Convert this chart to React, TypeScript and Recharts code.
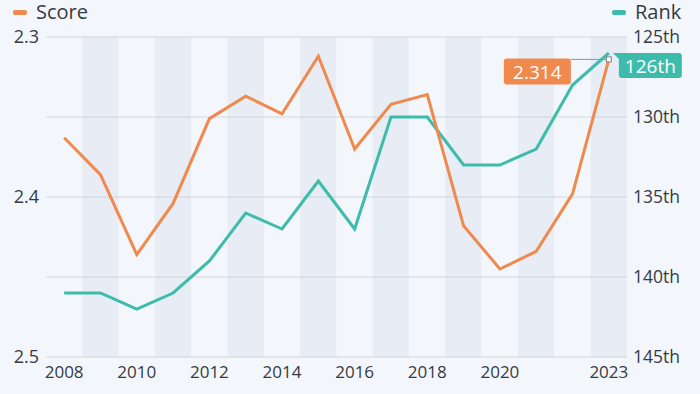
import React from "react";
import {
  ComposedChart,
  Line,
  Bar,
  XAxis,
  YAxis,
  CartesianGrid,
} from "recharts";

const years = [
  "2008", "2009", "2010", "2011", "2012", "2013", "2014", "2015",
  "2016", "2017", "2018", "2019", "2020", "2021", "2022", "2023",
];
const scoreValues = [
  2.363, 2.386, 2.436, 2.404, 2.351, 2.337, 2.348, 2.312,
  2.37, 2.342, 2.336, 2.418, 2.445, 2.434, 2.398, 2.314,
];
const rankValues = [141, 141, 142, 141, 139, 136, 137, 134, 137, 130, 130, 133, 133, 132, 128, 126];
// shaded column behind every other year
const bandFlags = [0, 1, 0, 1, 0, 1, 0, 1, 0, 1, 0, 1, 0, 1, 0, 1];
const shownYears = ["2008", "2010", "2012", "2014", "2016", "2018", "2020", "2023"];
const scoreTicks = [2.3, 2.4, 2.5];
const rankTicks = [125, 130, 135, 140, 145];

const ORANGE = "#f0894e";
const TEAL = "#3dbcab";
const TEXT = "#333b44";
const FONT = "'Open Sans', sans-serif";

const chartData = years.map((year, i) => ({
  year,
  score: scoreValues[i],
  rank: rankValues[i],
  band: bandFlags[i],
}));

if (typeof document !== "undefined") document.body.style.margin = "0";

function ScoreEndLabel(props: any) {
  const { x, y, index, value } = props;
  if (index !== years.length - 1) return null;
  return (
    <g>
      <line x1={x - 38} y1={y} x2={x} y2={y} stroke="#8d939a" strokeWidth={1} />
      <rect x={x - 105} y={y - 1} width={67} height={26} rx={3} fill={ORANGE} />
      <text
        x={x - 71.5}
        y={y + 12.5}
        textAnchor="middle"
        dominantBaseline="central"
        fill="#fff"
        fontSize={19}
        fontFamily={FONT}
      >
        {Number(value).toFixed(3)}
      </text>
      <rect x={x - 2.5} y={y - 2.5} width={5} height={5} fill="#fff" stroke="#7d838a" strokeWidth={1} />
    </g>
  );
}

function RankEndLabel(props: any) {
  const { x, y, index, value } = props;
  if (index !== years.length - 1) return null;
  return (
    <g>
      <path d={`M${x + 4},${y} L${x + 12},${y} L${x + 12},${y + 8} Z`} fill={TEAL} />
      <rect x={x + 10} y={y} width={63} height={25} rx={3} fill={TEAL} />
      <text
        x={x + 41.5}
        y={y + 12.5}
        textAnchor="middle"
        dominantBaseline="central"
        fill="#fff"
        fontSize={19}
        fontFamily={FONT}
      >
        {`${value}th`}
      </text>
    </g>
  );
}

function LegendItem({ left, color, label }: { left: number; color: string; label: string }) {
  return (
    <div style={{ position: "absolute", top: 0, left, display: "flex", alignItems: "center", height: 24 }}>
      <span style={{ width: 14, height: 5, borderRadius: 2, background: color, marginRight: 9 }} />
      <span style={{ fontFamily: FONT, fontSize: 20, color: TEXT, lineHeight: "24px" }}>{label}</span>
    </div>
  );
}

export default function App() {
  return (
    <div style={{ position: "relative", width: 700, height: 394, background: "#f3f6fa", overflow: "hidden" }}>
      <ComposedChart
        width={700}
        height={394}
        data={chartData}
        margin={{ top: 37, right: 13, bottom: 7, left: 6 }}
        barCategoryGap={0}
        style={{ fontFamily: FONT }}
      >
        <XAxis
          dataKey="year"
          interval={0}
          axisLine={false}
          tickLine={false}
          tickSize={0}
          tickMargin={9}
          height={30}
          tick={{ fontSize: 17, fill: TEXT }}
          tickFormatter={(v: string) => (shownYears.includes(v) ? v : "")}
        />
        <YAxis
          yAxisId="score"
          orientation="left"
          reversed
          domain={[2.3, 2.5]}
          ticks={scoreTicks}
          width={40}
          axisLine={false}
          tickLine={false}
          tickSize={0}
          tickMargin={7}
          tick={{ fontSize: 18, fill: TEXT }}
          tickFormatter={(v: number) => v.toFixed(1)}
        />
        <YAxis
          yAxisId="rank"
          orientation="right"
          reversed
          domain={[125, 145]}
          ticks={rankTicks}
          width={60}
          axisLine={false}
          tickLine={false}
          tickSize={0}
          tickMargin={6}
          tick={{ fontSize: 17.5, fill: TEXT }}
          tickFormatter={(v: number) => `${v}th`}
        />
        <YAxis yAxisId="band" hide width={0} domain={[0, 1]} />
        <Bar
          yAxisId="band"
          dataKey="band"
          fill="#b8c6dc"
          fillOpacity={0.19}
          isAnimationActive={false}
        />
        <CartesianGrid yAxisId="rank" vertical={false} stroke="#d2d8df" strokeWidth={1} />
        <Line
          yAxisId="rank"
          dataKey="rank"
          stroke={TEAL}
          strokeWidth={3}
          dot={false}
          activeDot={false}
          isAnimationActive={false}
          label={<RankEndLabel />}
        />
        <Line
          yAxisId="score"
          dataKey="score"
          stroke={ORANGE}
          strokeWidth={3}
          dot={false}
          activeDot={false}
          isAnimationActive={false}
          label={<ScoreEndLabel />}
        />
      </ComposedChart>
      <LegendItem left={13} color={ORANGE} label="Score" />
      <LegendItem left={612} color={TEAL} label="Rank" />
    </div>
  );
}
